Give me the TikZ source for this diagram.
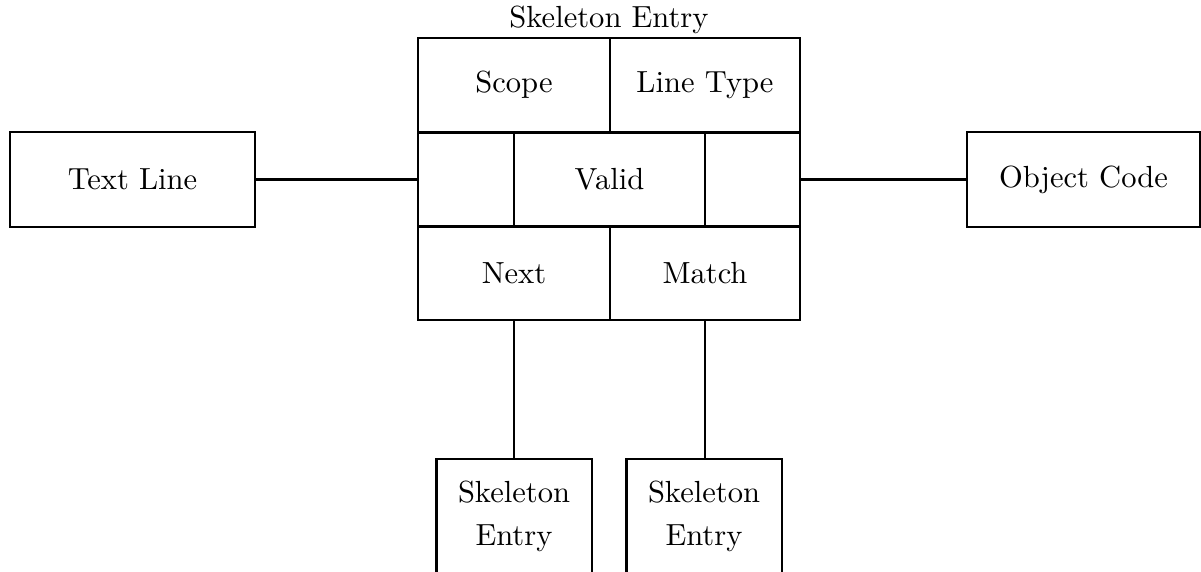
\documentclass[tikz,border=0pt]{standalone}
\usepackage{tikz}

\newcommand{\unitpx}{0.0115cm}

\begin{document}
\begin{tikzpicture}[x=\unitpx,y=-\unitpx,line width=0.8pt,
    cell/.style={draw,rectangle,inner sep=0pt,minimum height=94*\unitpx},
    outer/.style={cell,minimum height=95*\unitpx},
    entry/.style={minimum width=153*\unitpx,minimum height=112*\unitpx,
      inner sep=0pt,align=center}]
  \useasboundingbox (0,0) rectangle (1201,571);
  % the entry record, three rows of fields
  \node (title) at (609,20) {Skeleton Entry};
  \node[cell,minimum width=192*\unitpx] (scope) at (514,85) {Scope};
  \node[cell,minimum width=190*\unitpx] (ltype) at (705,85) {Line Type};
  \node[cell,minimum width=96*\unitpx] (vleft) at (466,179.5) {};
  \node[cell,minimum width=191*\unitpx] (valid) at (609.5,179.5) {Valid};
  \node[cell,minimum width=95*\unitpx] (vright) at (752.5,179.5) {};
  \node[cell,minimum width=192*\unitpx] (next) at (514,273) {Next};
  \node[cell,minimum width=190*\unitpx] (match) at (705,273) {Match};
  % things it points to
  \node[outer,minimum width=245*\unitpx] (tline) at (132.5,179.5) {Text Line};
  \node[outer,minimum width=233*\unitpx] (ocode) at (1083.5,179.5) {Object Code};
  \node[entry] (sknext) at (514,516) {Skeleton\\[2pt]Entry};
  \node[entry] (skmatch) at (704,516) {Skeleton\\[2pt]Entry};
  \draw ([yshift=-1cm]sknext.south west) -- (sknext.north west)
    -- (sknext.north east) -- ([yshift=-1cm]sknext.south east);
  \draw ([yshift=-1cm]skmatch.south west) -- (skmatch.north west)
    -- (skmatch.north east) -- ([yshift=-1cm]skmatch.south east);
  \draw (tline) -- (vleft);
  \draw (vright) -- (ocode);
  \draw (next.south) -- (next.south |- sknext.north);
  \draw (match.south) -- (match.south |- skmatch.north);
\end{tikzpicture}
\end{document}
